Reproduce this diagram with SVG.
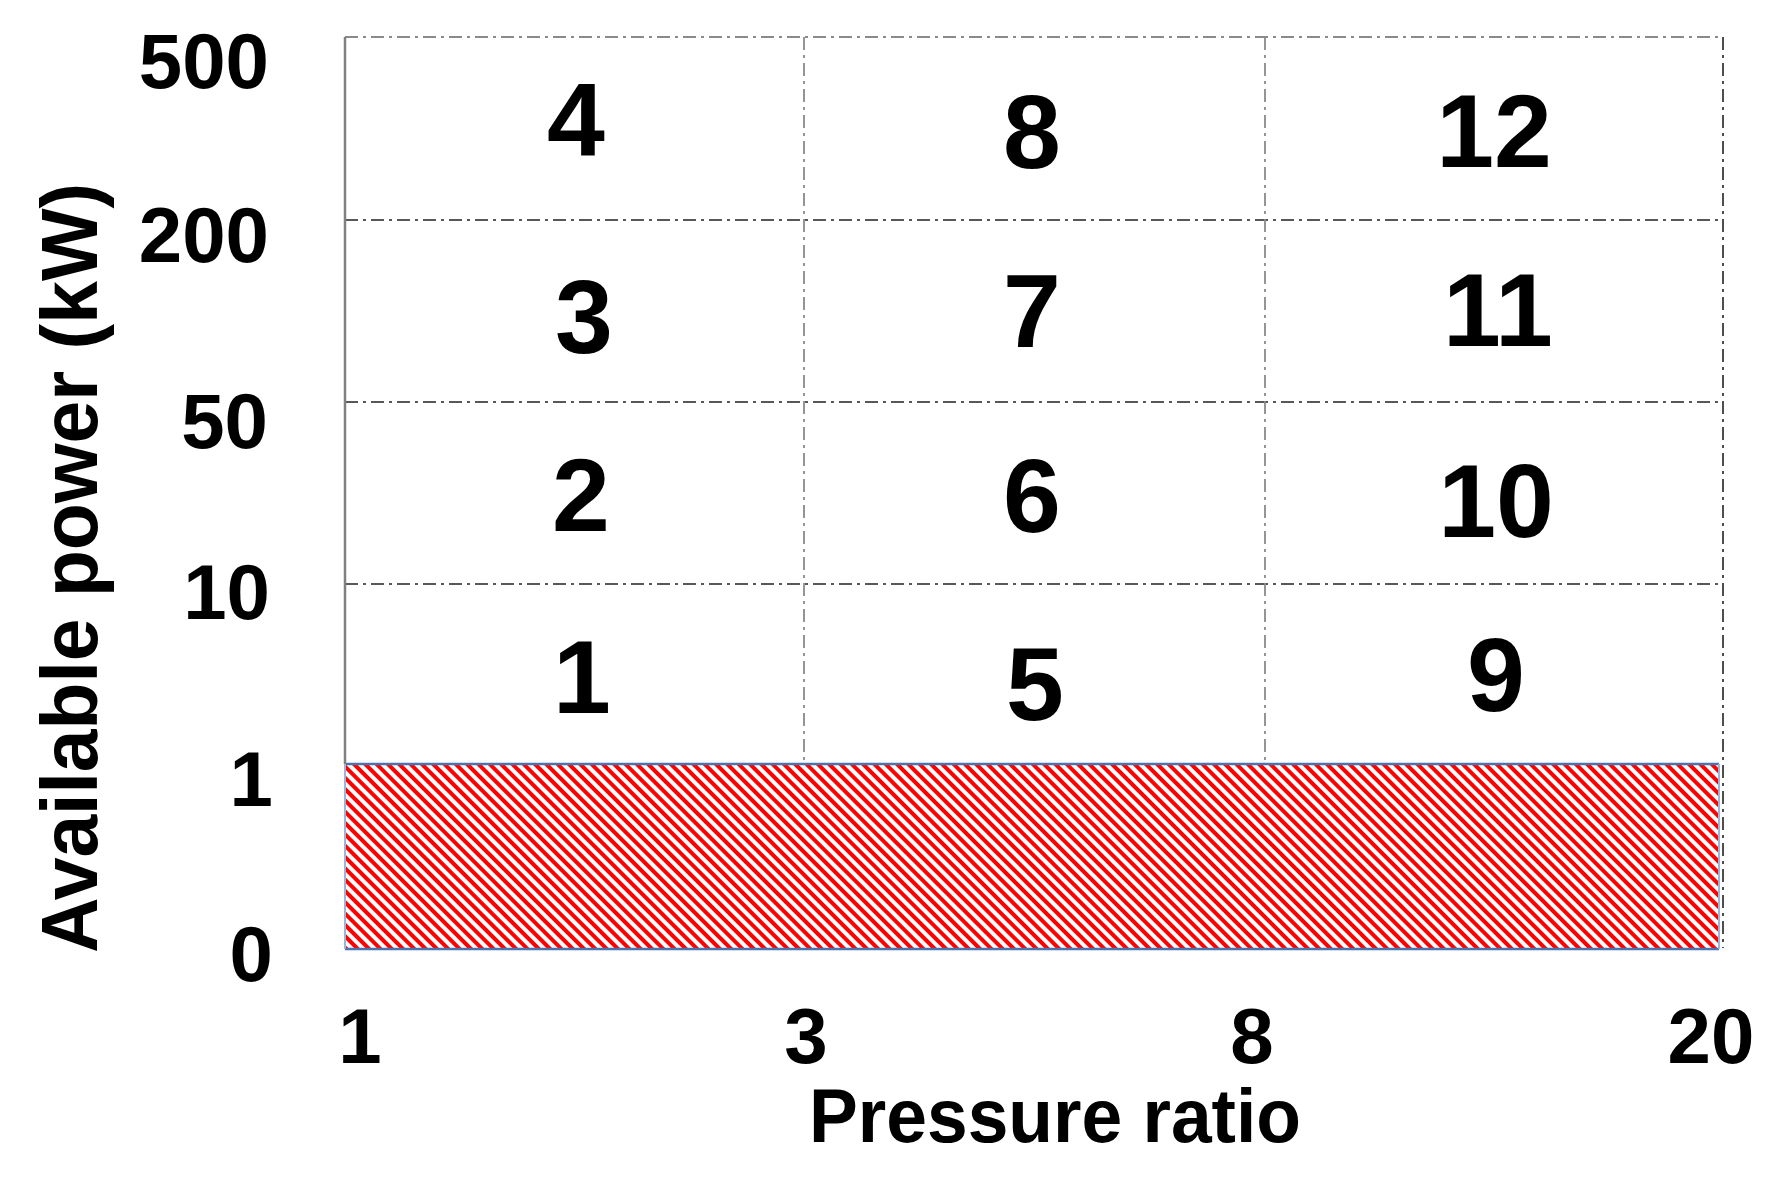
<svg xmlns="http://www.w3.org/2000/svg" width="1784" height="1188" viewBox="0 0 1784 1188">
<style>
.t{font-family:"Liberation Sans",Arial,sans-serif;font-weight:bold;fill:#000}
.tick{font-size:78px}
.cell{font-size:104px;text-anchor:middle}
.gd{stroke:#222;stroke-width:1.6;stroke-dasharray:13 5 3 5;fill:none}
.gl{stroke:#8a8a8a;stroke-width:1.8;stroke-dasharray:13 5 3 5;fill:none}
</style>
<defs>
<pattern id="hatch" patternUnits="userSpaceOnUse" width="8" height="8" patternTransform="rotate(45)">
<rect width="8" height="8" fill="#ffffff"/>
<rect width="8" height="4" fill="#ff0000"/>
</pattern>
</defs>
<rect width="1784" height="1188" fill="#fff"/>
<g id="hatched-region">
<rect x="345" y="764" width="1374" height="185" fill="url(#hatch)"/>
<line x1="345" y1="764" x2="1719" y2="764" stroke="#4a74b0" stroke-width="2.5"/>
<line x1="345" y1="949" x2="1719" y2="949" stroke="#4a74b0" stroke-width="2.5"/>
<line x1="345" y1="764" x2="345" y2="949" stroke="#9db5d8" stroke-width="2"/>
<line x1="1719" y1="764" x2="1719" y2="949" stroke="#9db5d8" stroke-width="2"/>
</g>
<g id="grid">
<line class="gl" x1="345" y1="37" x2="1723" y2="37"/>
<line class="gd" x1="345" y1="220" x2="1723" y2="220"/>
<line class="gd" x1="345" y1="402" x2="1723" y2="402"/>
<line class="gd" x1="345" y1="584" x2="1723" y2="584"/>
<line class="gl" x1="804" y1="37" x2="804" y2="764"/>
<line class="gl" x1="1265" y1="37" x2="1265" y2="764"/>
<line class="gd" x1="1723" y1="37" x2="1723" y2="948" stroke="#111" stroke-width="2"/>
<line x1="345" y1="37" x2="345" y2="764" stroke="#808080" stroke-width="2.5"/>
</g>
<g id="y-ticks" class="t tick" text-anchor="end">
<text x="269" y="88">500</text>
<text x="269" y="262">200</text>
<text x="268" y="448">50</text>
<text x="270" y="619">10</text>
<text x="273" y="806">1</text>
<text x="273" y="981">0</text>
</g>
<g id="x-ticks" class="t tick" text-anchor="middle">
<text x="360" y="1063">1</text>
<text x="806" y="1063">3</text>
<text x="1252" y="1063">8</text>
<text x="1711" y="1063">20</text>
</g>
<g id="axis-titles" class="t">
<text x="1055" y="1142" font-size="76" text-anchor="middle" textLength="492" lengthAdjust="spacingAndGlyphs">Pressure ratio</text>
<text transform="translate(97,568) rotate(-90)" font-size="79" text-anchor="middle" textLength="770" lengthAdjust="spacingAndGlyphs">Available power (kW)</text>
</g>
<g id="cells" class="t cell">
<g id="cell-4"><text x="576" y="156">4</text></g>
<g id="cell-8"><text x="1032" y="168">8</text></g>
<g id="cell-12"><text x="1494" y="167">12</text></g>
<g id="cell-3"><text x="584" y="353">3</text></g>
<g id="cell-7"><text x="1032" y="347">7</text></g>
<g id="cell-11"><text x="1498" y="346">11</text></g>
<g id="cell-2"><text x="581" y="531">2</text></g>
<g id="cell-6"><text x="1032" y="532">6</text></g>
<g id="cell-10"><text x="1496" y="537">10</text></g>
<g id="cell-1"><text x="582" y="713">1</text></g>
<g id="cell-5"><text x="1035" y="720">5</text></g>
<g id="cell-9"><text x="1496" y="711">9</text></g>
</g>
</svg>
